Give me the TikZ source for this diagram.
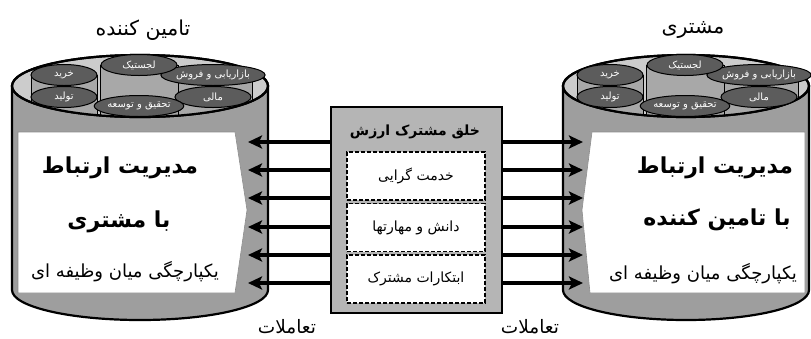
\documentclass[tikz,border=0pt]{standalone}
\usepackage{fontspec}
\usetikzlibrary{shapes.geometric,arrows.meta,positioning}
\newfontfamily\fa[Script=Arabic]{DejaVu Sans}
\TeXXeTstate=1
\newcommand{\rtltext}[1]{\fa\beginR #1\endR}
\definecolor{bodygray}{gray}{0.62}
\definecolor{topgray}{gray}{0.80}
\definecolor{minigray}{gray}{0.66}
\definecolor{unitgray}{gray}{0.36}
\definecolor{boxgray}{gray}{0.71}
\begin{document}
\begin{tikzpicture}[x=1pt,y=-1pt,
  shell/.style={draw=black, line width=2.2pt, fill=bodygray},
  lid/.style={draw=black, line width=2.2pt, fill=topgray},
  minibody/.style={draw=black, line width=0.8pt, fill=minigray},
  unit/.style={ellipse, draw=black, line width=1pt, fill=unitgray, text=white, inner sep=0pt,
    minimum width=76, minimum height=21, font=\fontsize{10}{11}\selectfont},
  smallunit/.style={unit, minimum width=66},
  panel/.style={fill=white, draw=black!45, line width=0.6pt},
  head/.style={font=\fontsize{22}{24}\selectfont\bfseries},
  note/.style={font=\fontsize{18}{20}\selectfont},
  title/.style={font=\fontsize{20.5}{22}\selectfont},
  valuebox/.style={draw=black, line width=1.2pt, fill=boxgray, minimum width=171, minimum height=206, inner sep=0pt},
  partbox/.style={draw=black, line width=1.6pt, dash pattern=on 4pt off 2pt, fill=white,
    minimum width=138, minimum height=48, inner sep=0pt, font=\fontsize{14}{15}\selectfont},
  flow/.style={line width=4pt, -{Stealth[length=14pt,width=13pt,inset=3pt]}},
  label/.style={font=\fontsize{18.5}{20}\selectfont}]
\useasboundingbox (0,0) rectangle (811,338);

% supplier drum
\node [title] (suptitle) at (143,30) {\rtltext{تامین کننده}};
\filldraw [shell] (12,86) -- (12,290) arc [start angle=180, end angle=0, x radius=128, y radius=30] -- (268,86) -- cycle;
\filldraw [lid] (140,86) ellipse [x radius=128, y radius=31];
\begin{scope}
\clip (140,86) ellipse [x radius=128, y radius=31];
\filldraw [minibody] (31,75) rectangle (97,130);
\filldraw [minibody] (174,75) rectangle (252,130);
\filldraw [minibody] (100,65) rectangle (178,130);
\end{scope}
\draw [draw=black, line width=2.2pt] (140,86) ellipse [x radius=128, y radius=31];
\node [smallunit] (sbuy) at (64,75) {\rtltext{خرید}};
\node [unit] (smkt) at (213,75) {\rtltext{بازاریابی و فروش}};
\node [smallunit] (sprod) at (64,97) {\rtltext{تولید}};
\node [unit] (sfin) at (213,97) {\rtltext{مالی}};
\node [unit] (slog) at (139,65) {\rtltext{لجستیک}};
\node [unit] (srnd) at (139,106) {\rtltext{تحقیق و توسعه}};
\filldraw [panel] (18,132) -- (235,132) -- (247,210) -- (235,293) -- (18,293) -- cycle;
\node [head] (suphead1) at (120,168) {\rtltext{مدیریت ارتباط}};
\node [head] (suphead2) at (119,222) {\rtltext{با مشتری}};
\node [note] (supnote) at (125,272) {\rtltext{یکپارچگی میان وظیفه ای}};

% customer drum
\node [title] (custitle) at (693,30) {\rtltext{مشتری}};
\filldraw [shell] (563,86) -- (563,290) arc [start angle=180, end angle=0, x radius=123, y radius=30] -- (809,86) -- cycle;
\filldraw [lid] (686,86) ellipse [x radius=123, y radius=31];
\begin{scope}
\clip (686,86) ellipse [x radius=123, y radius=31];
\filldraw [minibody] (577,75) rectangle (643,130);
\filldraw [minibody] (720,75) rectangle (798,130);
\filldraw [minibody] (646,65) rectangle (724,130);
\end{scope}
\draw [draw=black, line width=2.2pt] (686,86) ellipse [x radius=123, y radius=31];
\node [smallunit] (cbuy) at (610,75) {\rtltext{خرید}};
\node [unit] (cmkt) at (759,75) {\rtltext{بازاریابی و فروش}};
\node [smallunit] (cprod) at (610,97) {\rtltext{تولید}};
\node [unit] (cfin) at (759,97) {\rtltext{مالی}};
\node [unit] (clog) at (685,65) {\rtltext{لجستیک}};
\node [unit] (crnd) at (685,106) {\rtltext{تحقیق و توسعه}};
\filldraw [panel] (592,132) -- (805,132) -- (805,293) -- (590,293) -- (582,210) -- cycle;
\node [head] (cushead1) at (715,168) {\rtltext{مدیریت ارتباط}};
\node [head] (cushead2) at (717,220) {\rtltext{با تامین کننده}};
\node [note] (cusnote) at (703,274) {\rtltext{یکپارچگی میان وظیفه ای}};

% value co-creation
\node [valuebox] (value) at (416.5,210) {};
\node [font=\fontsize{14}{15}\selectfont\bfseries] (valuetitle) at (415,132) {\rtltext{خلق مشترک ارزش}};
\node [partbox] (serv) at (416,176) {\rtltext{خدمت گرایی}};
\node [partbox] (know) at (416,227.5) {\rtltext{دانش و مهارتها}};
\node [partbox] (init) at (416,279) {\rtltext{ابتکارات مشترک}};

% interactions
\coordinate (la1) at (248,142);
\coordinate (la2) at (248,170);
\coordinate (la3) at (248,198);
\coordinate (la4) at (248,227);
\coordinate (la5) at (248,255);
\coordinate (la6) at (248,283);
\coordinate (ra1) at (583,142);
\coordinate (ra2) at (583,170);
\coordinate (ra3) at (583,198);
\coordinate (ra4) at (583,227);
\coordinate (ra5) at (583,255);
\coordinate (ra6) at (583,283);
\draw [flow] (value.west |- la1) -- (la1);
\draw [flow] (value.west |- la2) -- (la2);
\draw [flow] (value.west |- la3) -- (la3);
\draw [flow] (value.west |- la4) -- (la4);
\draw [flow] (value.west |- la5) -- (la5);
\draw [flow] (value.west |- la6) -- (la6);
\draw [flow] (value.east |- ra1) -- (ra1);
\draw [flow] (value.east |- ra2) -- (ra2);
\draw [flow] (value.east |- ra3) -- (ra3);
\draw [flow] (value.east |- ra4) -- (ra4);
\draw [flow] (value.east |- ra5) -- (ra5);
\draw [flow] (value.east |- ra6) -- (ra6);
\node [label] (leftlabel) at (287,327) {\rtltext{تعاملات}};
\node [label] (rightlabel) at (530,327) {\rtltext{تعاملات}};
\end{tikzpicture}
\end{document}
